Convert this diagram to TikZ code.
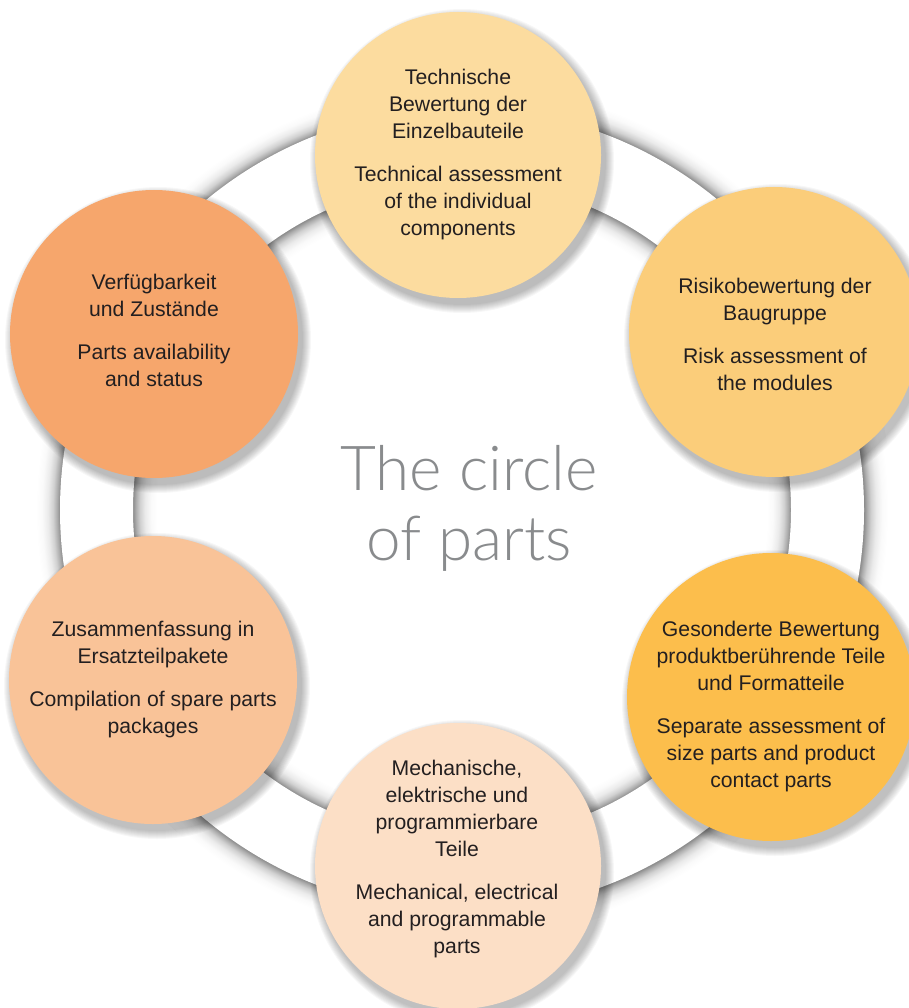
\documentclass[tikz,border=0pt]{standalone}
\usepackage{fontspec}
\setmainfont{Liberation Sans}
\IfFontExistsTF{Lato Light}{\newfontfamily\lightfont{Lato Light}}{\newfontfamily\lightfont{Liberation Sans}}
\definecolor{cTop}{HTML}{FCDC9F}
\definecolor{cUR}{HTML}{FBCD7A}
\definecolor{cLR}{HTML}{FCBE4C}
\definecolor{cBot}{HTML}{FCDFC6}
\definecolor{cLL}{HTML}{F9C398}
\definecolor{cUL}{HTML}{F6A66C}
\definecolor{txt}{HTML}{231F20}
\definecolor{ttl}{HTML}{898B8D}
% the path's bounding box maps to the central 50bp of the shading square
\pgfdeclareradialshading{ringshadow}{\pgfpoint{0bp}{0bp}}{%
color(0bp)=(white); color(17.733bp)=(white); color(18.081bp)=(black!2);
color(18.430bp)=(black!8); color(18.721bp)=(black!18); color(18.953bp)=(black!32);
color(19.128bp)=(black!45); color(23.372bp)=(black!45); color(23.547bp)=(black!32);
color(23.779bp)=(black!18); color(24.070bp)=(black!8); color(24.419bp)=(black!2);
color(24.767bp)=(white); color(25bp)=(white); color(50bp)=(white)}
\tikzset{
  partcircle/.style={circle, inner sep=0pt, minimum size=#1},
  parttext/.style={align=center, text=txt, font=\fontsize{21.2}{27}\selectfont},
  titletext/.style={align=center, text=ttl, font=\lightfont\fontsize{62}{70}\selectfont},
}
\newcommand\PartShadow[3]{% x, y, radius
  \foreach \k in {1,...,9}{\fill[black,opacity=0.03] (#1+4,#2+6) circle[radius={(#3+10-\k)*1pt}];}
}
\begin{document}
\begin{tikzpicture}[x=1pt,y=-1pt]
\useasboundingbox (0,0) rectangle (909,1008);
\coordinate (ringc) at (462,510);
% ring with soft shadow
\shade[shading=ringshadow] (ringc) circle[radius=430pt];
\fill[white, even odd rule] (ringc) circle[radius=402pt] circle[radius=329pt];
% circle shadows
\PartShadow{458}{155}{143}
\PartShadow{774}{332}{145}
\PartShadow{771}{697}{144}
\PartShadow{458}{866}{143}
\PartShadow{153}{680}{144}
\PartShadow{154}{334}{144}
% circles
\node[partcircle=286pt, fill=cTop] (c1) at (458,155) {};
\node[partcircle=290pt, fill=cUR]  (c2) at (774,332) {};
\node[partcircle=288pt, fill=cLR]  (c3) at (771,697) {};
\node[partcircle=286pt, fill=cBot] (c4) at (458,866) {};
\node[partcircle=288pt, fill=cLL]  (c5) at (153,680) {};
\node[partcircle=288pt, fill=cUL]  (c6) at (154,334) {};
% texts
\node[parttext] (t1) at (458,155) {Technische\\Bewertung der\\Einzelbauteile\\[16pt]Technical assessment\\of the individual\\components};
\node[parttext] (t2) at (775,334) {Risikobewertung der\\Baugruppe\\[16pt]Risk assessment of\\the modules};
\node[parttext] (t3) at (771,707) {Gesonderte Bewertung\\produktber\"uhrende Teile\\und Formatteile\\[16pt]Separate assessment of\\size parts and product\\contact parts};
\node[parttext] (t4) at (457,859) {Mechanische,\\elektrische und\\programmierbare\\Teile\\[16pt]Mechanical, electrical\\and programmable\\parts};
\node[parttext] (t5) at (153,680) {Zusammenfassung in\\Ersatzteilpakete\\[16pt]Compilation of spare parts\\packages};
\node[parttext] (t6) at (154,330) {Verf\"ugbarkeit\\und Zust\"ande\\[16pt]Parts availability\\and status};
% title
\node[titletext] (title) at (469,508) {The circle\\of parts};
\end{tikzpicture}
\end{document}
